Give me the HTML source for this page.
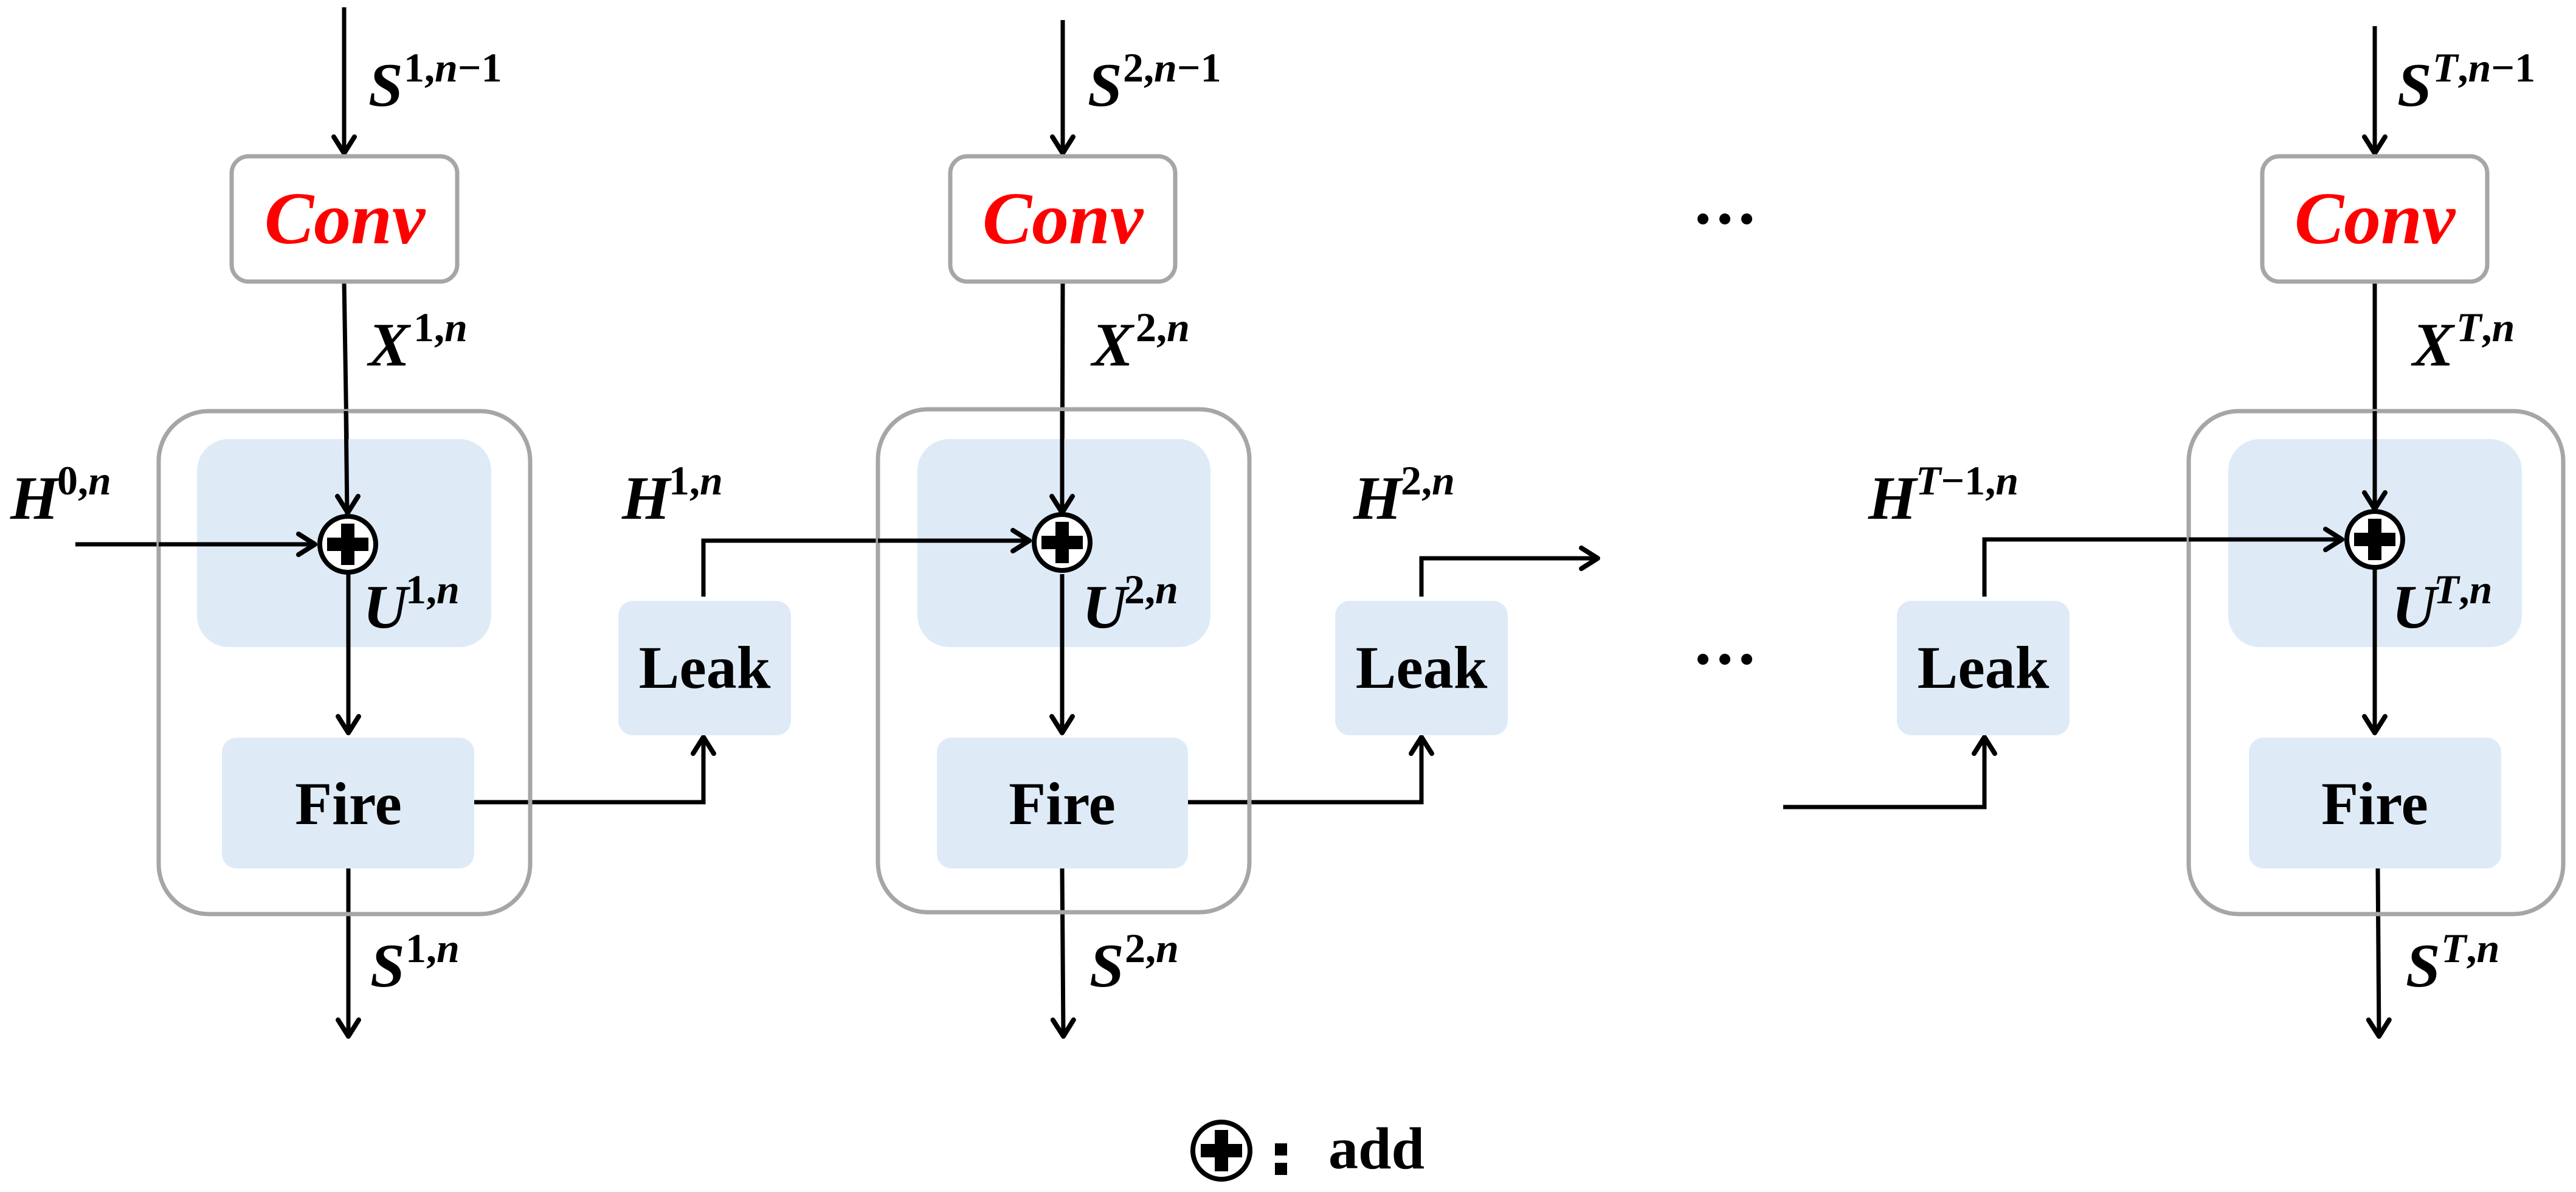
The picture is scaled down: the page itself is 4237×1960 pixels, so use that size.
<!DOCTYPE html>
<html><head><meta charset="utf-8"><style>
html,body{margin:0;padding:0;background:#fff;}
svg{display:block;}
.m{font-family:"Liberation Serif",serif;font-weight:bold;font-style:italic;fill:#000;}
.b{font-size:102px;}
.s{font-size:68px;font-style:normal;}
.lbl{font-family:"Liberation Serif",serif;font-weight:bold;font-size:100px;fill:#000;text-anchor:middle;}
.conv{font-family:"Liberation Serif",serif;font-weight:bold;font-style:italic;font-size:122px;fill:#ff0000;text-anchor:middle;}
</style></head><body>
<svg width="4237" height="1960" viewBox="0 0 4237 1960" xmlns="http://www.w3.org/2000/svg">
<defs>
<marker id="a" markerWidth="12" markerHeight="12" refX="10" refY="6" orient="auto" markerUnits="userSpaceOnUse" viewBox="0 0 12 12" style="overflow:visible">
<path d="M-17,-11 L10,6 L-17,23" fill="none" stroke="#000" stroke-width="8" stroke-linecap="round" stroke-linejoin="round"/>
</marker>
</defs>
<g fill="none" stroke="#000" stroke-width="7">
<line x1="566" y1="12" x2="566" y2="252" marker-end="url(#a)"/>
<line x1="566" y1="463" x2="572" y2="840" marker-end="url(#a)"/>
<line x1="124" y1="895" x2="518" y2="895" marker-end="url(#a)"/>
<line x1="573" y1="945" x2="573" y2="1205" marker-end="url(#a)"/>
<line x1="573" y1="1428" x2="573" y2="1704" marker-end="url(#a)"/>
<polyline points="780,1319 1157,1319 1157,1212" marker-end="url(#a)"/>
<line x1="1748" y1="33" x2="1748" y2="252" marker-end="url(#a)"/>
<line x1="1748" y1="463" x2="1747" y2="840" marker-end="url(#a)"/>
<polyline points="1157,981 1157,889 1693,889" marker-end="url(#a)"/>
<line x1="1747" y1="945" x2="1747" y2="1205" marker-end="url(#a)"/>
<line x1="1747" y1="1428" x2="1749" y2="1704" marker-end="url(#a)"/>
<polyline points="1954,1319 2338,1319 2338,1212" marker-end="url(#a)"/>
<polyline points="2338,981 2338,918 2628,918" marker-end="url(#a)"/>
<polyline points="2933,1327 3264,1327 3264,1212" marker-end="url(#a)"/>
<polyline points="3264,981 3264,887 3852,887" marker-end="url(#a)"/>
<line x1="3906" y1="43" x2="3906" y2="252" marker-end="url(#a)"/>
<line x1="3906" y1="463" x2="3906" y2="836" marker-end="url(#a)"/>
<line x1="3906" y1="939" x2="3906" y2="1205" marker-end="url(#a)"/>
<line x1="3911" y1="1428" x2="3913" y2="1704" marker-end="url(#a)"/>
</g>
<g stroke="#a6a6a6" stroke-width="7" fill="none">
<rect x="381" y="257" width="371" height="206" rx="28"/>
<rect x="1563" y="257" width="370" height="206" rx="28"/>
<rect x="3721" y="257" width="370" height="206" rx="28"/>
<rect x="261" y="676" width="611" height="827" rx="82"/>
<rect x="1444" y="673" width="611" height="827" rx="82"/>
<rect x="3600" y="676" width="616" height="827" rx="82"/>
</g>
<g fill="#deebf7">
<rect x="324" y="722" width="484" height="342" rx="52"/>
<rect x="1509" y="722" width="482" height="342" rx="52"/>
<rect x="3665" y="722" width="483" height="342" rx="52"/>
<rect x="365" y="1213" width="415" height="215" rx="24"/>
<rect x="1541" y="1213" width="413" height="215" rx="24"/>
<rect x="3699" y="1213" width="415" height="215" rx="24"/>
<rect x="1017" y="988" width="284" height="221" rx="24"/>
<rect x="2196" y="988" width="284" height="221" rx="24"/>
<rect x="3120" y="988" width="284" height="221" rx="24"/>
</g>
<g stroke="#000" stroke-width="7">
<line x1="569" y1="676" x2="571" y2="846"/>
<line x1="573" y1="944" x2="573" y2="1064"/>
<line x1="1747" y1="676" x2="1747" y2="846"/>
<line x1="1747" y1="944" x2="1747" y2="1064"/>
<line x1="3906" y1="676" x2="3906" y2="840"/>
<line x1="3906" y1="936" x2="3906" y2="1064"/>
<line x1="3600" y1="887" x2="3852" y2="887"/>
<line x1="1444" y1="889" x2="1693" y2="889"/>
<line x1="261" y1="895" x2="518" y2="895"/>
</g>
<g stroke="#000" stroke-width="8" fill="none" stroke-linecap="round" stroke-linejoin="round">
<path d="M491,878 L518,895 L491,912 M555,816 L572,843 L589,816"/>
<path d="M1666,872 L1693,889 L1666,906 M1730,816 L1747,843 L1764,816"/>
<path d="M3825,870 L3852,887 L3825,904 M3889,810 L3906,837 L3923,810"/>
</g>
<g>
<circle cx="572" cy="895" r="46" fill="#fff" stroke="#000" stroke-width="8"/>
<rect x="538" y="884" width="68" height="22"/><rect x="561" y="861" width="22" height="68"/>
<circle cx="1747" cy="892" r="46" fill="#fff" stroke="#000" stroke-width="8"/>
<rect x="1713" y="881" width="68" height="22"/><rect x="1736" y="858" width="22" height="68"/>
<circle cx="3906" cy="887" r="46" fill="#fff" stroke="#000" stroke-width="8"/>
<rect x="3872" y="876" width="68" height="22"/><rect x="3895" y="853" width="22" height="68"/>
<circle cx="2009" cy="1892" r="47" fill="#fff" stroke="#000" stroke-width="8"/>
<rect x="1975" y="1881" width="68" height="22"/><rect x="1998" y="1858" width="22" height="68"/>
<rect x="2097" y="1880" width="20" height="20"/><rect x="2097" y="1912" width="20" height="20"/>
</g>
<text x="2185" y="1921" style="font-family:'Liberation Serif',serif;font-weight:bold;font-size:98px;">add</text>
<text class="conv" x="567" y="400">Conv</text>
<text class="conv" x="1748" y="400">Conv</text>
<text class="conv" x="3906" y="400">Conv</text>
<text class="lbl" x="573" y="1355">Fire</text>
<text class="lbl" x="1747" y="1355">Fire</text>
<text class="lbl" x="3906" y="1355">Fire</text>
<text class="lbl" x="1159" y="1131">Leak</text>
<text class="lbl" x="2338" y="1131">Leak</text>
<text class="lbl" x="3262" y="1131">Leak</text>
<g fill="#000">
<circle cx="2801" cy="360" r="9"/><circle cx="2837" cy="360" r="9"/><circle cx="2873" cy="360" r="9"/>
<circle cx="2801" cy="1084" r="9"/><circle cx="2837" cy="1084" r="9"/><circle cx="2873" cy="1084" r="9"/>
</g>
<g class="m">
<text class="b" x="606" y="174">S</text><text class="s" x="664" y="134">1,<tspan font-style="italic">n</tspan>−1</text>
<text class="b" x="606" y="601">X</text><text class="s" x="680" y="561">1,<tspan font-style="italic">n</tspan></text>
<text class="b" x="17" y="853">H</text><text class="s" x="94" y="813">0,<tspan font-style="italic">n</tspan></text>
<text class="b" x="597" y="1032">U</text><text class="s" x="667" y="992">1,<tspan font-style="italic">n</tspan></text>
<text class="b" x="609" y="1622">S</text><text class="s" x="667" y="1582">1,<tspan font-style="italic">n</tspan></text>
<text class="b" x="1023" y="853">H</text><text class="s" x="1100" y="813">1,<tspan font-style="italic">n</tspan></text>
<text class="b" x="1789" y="174">S</text><text class="s" x="1847" y="134">2,<tspan font-style="italic">n</tspan>−1</text>
<text class="b" x="1796" y="601">X</text><text class="s" x="1868" y="561">2,<tspan font-style="italic">n</tspan></text>
<text class="b" x="1780" y="1032">U</text><text class="s" x="1849" y="992">2,<tspan font-style="italic">n</tspan></text>
<text class="b" x="1792" y="1622">S</text><text class="s" x="1850" y="1582">2,<tspan font-style="italic">n</tspan></text>
<text class="b" x="2226" y="853">H</text><text class="s" x="2304" y="813">2,<tspan font-style="italic">n</tspan></text>
<text class="b" x="3073" y="853">H</text><text class="s" x="3151" y="813"><tspan font-style="italic">T</tspan>−1,<tspan font-style="italic">n</tspan></text>
<text class="b" x="3943" y="174">S</text><text class="s" x="4001" y="134"><tspan font-style="italic">T</tspan>,<tspan font-style="italic">n</tspan>−1</text>
<text class="b" x="3968" y="601">X</text><text class="s" x="4040" y="561"><tspan font-style="italic">T</tspan>,<tspan font-style="italic">n</tspan></text>
<text class="b" x="3934" y="1032">U</text><text class="s" x="4003" y="992"><tspan font-style="italic">T</tspan>,<tspan font-style="italic">n</tspan></text>
<text class="b" x="3957" y="1622">S</text><text class="s" x="4015" y="1582"><tspan font-style="italic">T</tspan>,<tspan font-style="italic">n</tspan></text>
</g>
</svg>
</body></html>
